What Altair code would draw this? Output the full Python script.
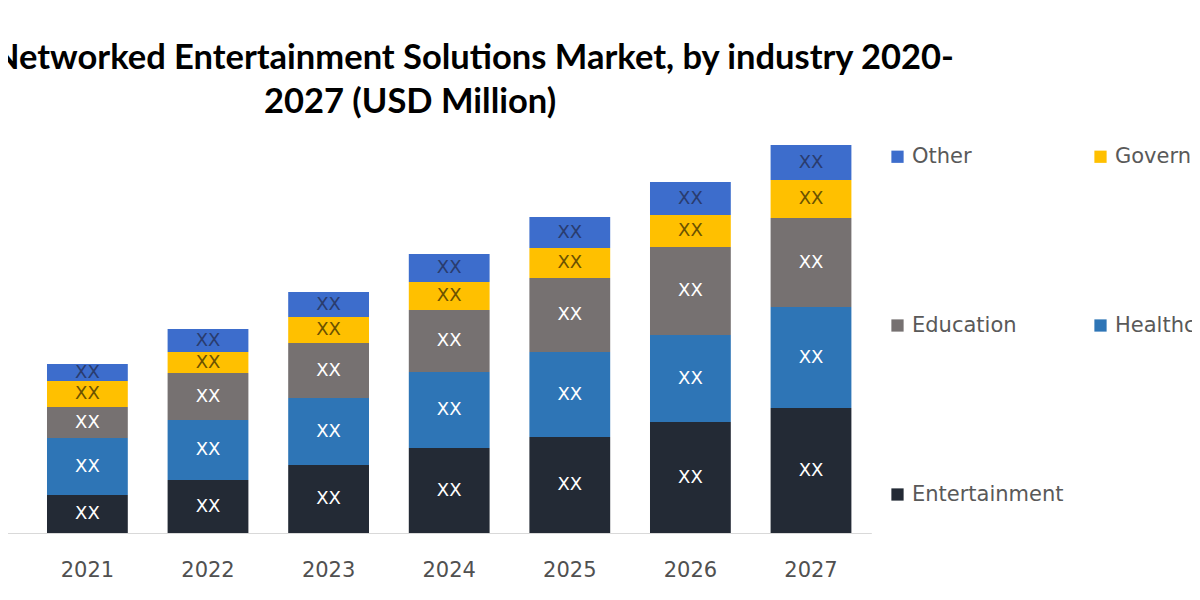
import altair as alt
import pandas as pd

years = ["2020", "2021", "2022", "2023", "2024", "2025", "2026", "2027"]
segments = ["Entertainment", "Healthcare", "Education", "Government", "Other"]
entertainment = [27, 38, 53, 68, 85, 96, 111, 125]
healthcare = [60, 57, 60, 67, 76, 85, 87, 101]
education = [15, 31, 47, 55, 62, 74, 88, 89]
government = [18, 26, 21, 26, 28, 30, 32, 38]
other = [12, 17, 23, 25, 28, 31, 33, 35]
# legend grid is filled column by column: column 1 then column 2
legend_order = ["Other", "Education", "Entertainment", "Government", "Healthcare"]
colors = ["#3d6dcc", "#767171", "#232a35", "#ffc000", "#2e75b6"]
label_colors = {"Entertainment": "#ffffff", "Healthcare": "#ffffff", "Education": "#ffffff",
                "Government": "#6b5200", "Other": "#2a3c6e"}
title_line1 = "Networked Entertainment Solutions Market, by industry 2020-"
title_line2 = "2027 (USD Million)"

series = {"Entertainment": entertainment, "Healthcare": healthcare, "Education": education,
          "Government": government, "Other": other}
rows = []
for s_i, s in enumerate(segments):
    for y_i, yr in enumerate(years):
        rows.append({"year": yr, "segment": s, "rank": s_i, "value": series[s][y_i],
                     "label": "XX", "tcolor": label_colors[s]})
df = pd.DataFrame(rows)

FONT = "DejaVu Sans"

base = alt.Chart(df).transform_stack(
    stack="value", groupby=["year"], sort=[{"field": "rank", "order": "ascending"}], as_=["y0", "y1"]
).transform_calculate(mid="(datum.y0 + datum.y1) / 2")

xscale = alt.Scale(domain=years, range=[-101.5, 863.3], paddingInner=0.33, paddingOuter=0.165)
yscale = alt.Scale(domain=[0, 525], nice=False)

bars = base.mark_bar().encode(
    x=alt.X("year:N", scale=xscale, sort=years,
            axis=alt.Axis(title=None, labelFont=FONT, labelFontSize=21, labelColor="#505050",
                          labelPadding=26, ticks=False, domainColor="#d9d9d9", labelAngle=0,
                          labelExpr="datum.value == '2020' ? '' : datum.label")),
    y=alt.Y("y0:Q", scale=yscale, axis=None),
    y2="y1:Q",
    color=alt.Color("segment:N", scale=alt.Scale(domain=legend_order, range=colors),
                    legend=alt.Legend(title=None, orient="none", legendX=879, legendY=138,
                                      columns=2, rowPadding=147, columnPadding=26,
                                      symbolType="square", symbolSize=150, symbolStrokeWidth=0,
                                      labelFont=FONT, labelFontSize=21, labelColor="#595959",
                                      labelOffset=4, symbolOpacity=1)),
)

texts = base.transform_filter("datum.year != '2020'").mark_text(
    font=FONT, fontSize=18, baseline="middle", align="center"
).encode(
    x=alt.X("year:N", scale=xscale, sort=years),
    y=alt.Y("mid:Q", scale=yscale),
    text="label:N",
    color=alt.Color("tcolor:N", scale=None),
)

t1 = alt.Chart(pd.DataFrame({"t": [title_line1]})).mark_text(
    font="Lato", fontWeight="bold", fontSize=34.5, align="right", baseline="middle", color="#000000"
).encode(text="t:N", x=alt.value(946), y=alt.value(51))

t2 = alt.Chart(pd.DataFrame({"t": [title_line2]})).mark_text(
    font="Lato", fontWeight="bold", fontSize=34.5, align="center", baseline="middle", color="#000000"
).encode(text="t:N", x=alt.value(402), y=alt.value(95))

chart = alt.layer(bars, texts, t1, t2).properties(
    width=1184, height=525,
    autosize=alt.AutoSizeParams(type="none"),
    padding={"left": 0, "top": 0, "right": 0, "bottom": 59},
).configure_view(stroke=None)

chart.save("out.html", embed_options={"renderer": "svg", "actions": False})
